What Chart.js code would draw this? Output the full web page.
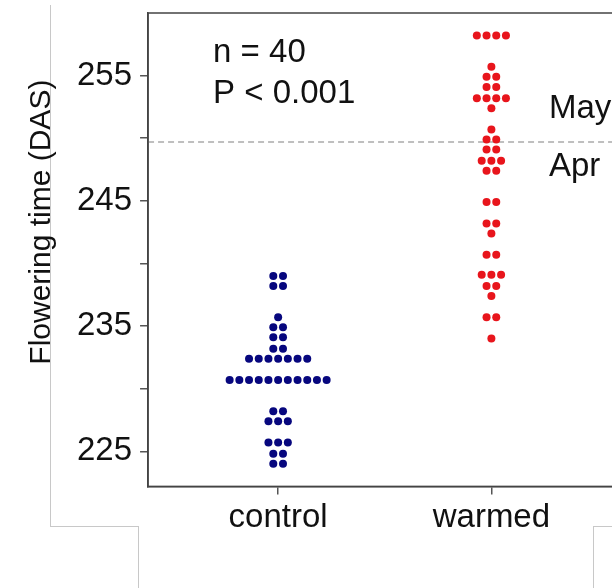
<!DOCTYPE html>
<html>
<head>
<meta charset="utf-8">
<script src="https://cdn.jsdelivr.net/npm/chart.js@4"></script>
<style>
  html, body { margin: 0; padding: 0; background: #fff; overflow: hidden; }
  #wrap { position: relative; width: 612px; height: 588px; overflow: hidden; }
  canvas { position: absolute; left: 0; top: 0; }
  .frame { position: absolute; background: #c8c8c8; }
</style>
</head>
<body>
<div id="wrap">
  <!-- faint frame left over from the source figure -->
  <div class="frame" style="left:50px;top:5px;width:1px;height:522px"></div>
  <div class="frame" style="left:50px;top:526px;width:88px;height:1px"></div>
  <div class="frame" style="left:138px;top:526px;width:1px;height:62px"></div>
  <div class="frame" style="left:593px;top:526px;width:1px;height:62px"></div>
  <div class="frame" style="left:593px;top:526px;width:19px;height:1px"></div>
  <canvas id="chart" width="640" height="588"></canvas>
</div>
<script>
// groups on the x axis
const groups = ['control', 'warmed'];
const groupPos = [1, 2];

// dot plot rows: bin value (DAS) and how many dots sit in that row
const controlBins = [239.0, 238.2, 235.7, 234.9, 234.1, 233.2, 232.4, 230.7, 228.2, 227.4, 225.7, 224.8, 224.0];
const controlCounts = [2, 2, 1, 2, 2, 2, 7, 11, 2, 3, 3, 2, 2];

const warmedBins = [258.2, 255.7, 254.9, 254.1, 253.2, 252.4, 250.7, 249.9, 249.1, 248.2, 247.4,
                    244.9, 243.2, 242.4, 240.7, 239.1, 238.2, 237.4, 235.7, 234.0];
const warmedCounts = [4, 1, 2, 2, 4, 1, 1, 2, 2, 3, 2, 2, 2, 1, 2, 3, 2, 1, 2, 1];

// y ticks (only every other one gets a label)
const yTicks = [225, 230, 235, 240, 245, 250, 255];
const yLabelled = [225, 235, 245, 255];
const yTitle = 'Flowering time (DAS)';

// April / May boundary
const monthSplit = 249.7;
const notes = ['n = 40', 'P < 0.001'];
const months = ['May', 'Apr'];

const DOT_STEP = 0.0455; // horizontal gap between stacked dots, in x units

function dotPoints(center, bins, counts) {
  const pts = [];
  bins.forEach((b, r) => {
    const k = counts[r];
    for (let i = 0; i < k; i++) {
      pts.push({ x: center + (i - (k - 1) / 2) * DOT_STEP, y: b });
    }
  });
  return pts;
}

const FONT = 'Arial, "Liberation Sans", sans-serif';

// box, dashed month line and text notes
const extras = {
  id: 'extras',
  beforeDatasetsDraw(chart) {
    const { ctx, chartArea: a, scales } = chart;
    ctx.save();
    ctx.strokeStyle = '#aaaaaa';
    ctx.lineWidth = 1.5;
    ctx.setLineDash([6, 4]);
    const y = scales.y.getPixelForValue(monthSplit);
    ctx.beginPath();
    ctx.moveTo(a.left, y);
    ctx.lineTo(chart.width, y);
    ctx.stroke();
    ctx.setLineDash([]);
    ctx.strokeStyle = '#444';
    ctx.lineWidth = 1.5;
    ctx.strokeRect(a.left, a.top, a.right - a.left, a.bottom - a.top);
    ctx.restore();
  },
  afterDraw(chart) {
    const { ctx, chartArea: a, scales } = chart;
    const xs = scales.x, ys = scales.y;
    ctx.save();
    ctx.fillStyle = '#111';
    ctx.font = '33px ' + FONT;
    ctx.textAlign = 'left';
    ctx.textBaseline = 'alphabetic';
    ctx.fillText(notes[0], xs.getPixelForValue(0.695), ys.getPixelForValue(256.1));
    ctx.fillText(notes[1], xs.getPixelForValue(0.695), ys.getPixelForValue(252.85));
    ctx.fillText(months[0], xs.getPixelForValue(2.27), ys.getPixelForValue(251.6));
    ctx.fillText(months[1], xs.getPixelForValue(2.27), ys.getPixelForValue(246.95));

    // y axis title, sits a bit above the middle of the axis
    ctx.translate(a.left - 106, ys.getPixelForValue(243.3));
    ctx.rotate(-Math.PI / 2);
    ctx.font = '30px ' + FONT;
    ctx.textAlign = 'center';
    ctx.textBaseline = 'middle';
    ctx.fillText(yTitle, 0, 0);
    ctx.restore();
  }
};

new Chart(document.getElementById('chart'), {
  type: 'scatter',
  data: {
    datasets: [
      {
        label: groups[0],
        data: dotPoints(groupPos[0], controlBins, controlCounts),
        pointRadius: 4,
        pointBackgroundColor: '#07077e',
        pointBorderWidth: 0
      },
      {
        label: groups[1],
        data: dotPoints(groupPos[1], warmedBins, warmedCounts),
        pointRadius: 4,
        pointBackgroundColor: '#e8151c',
        pointBorderWidth: 0
      }
    ]
  },
  options: {
    responsive: false,
    animation: false,
    layout: { padding: { left: 69, top: 13, right: 10, bottom: 46 } },
    plugins: { legend: { display: false }, tooltip: { enabled: false } },
    scales: {
      x: {
        type: 'linear',
        min: 0.39,
        max: 2.65,
        afterBuildTicks: s => { s.ticks = groupPos.map(v => ({ value: v })); },
        afterFit: s => { s.paddingLeft = 0; s.paddingRight = 0; },
        ticks: {
          callback: v => groups[groupPos.indexOf(v)],
          font: { size: 33, family: FONT },
          color: '#111',
          padding: 4,
          maxRotation: 0,
          autoSkip: false
        },
        grid: { drawOnChartArea: false, drawTicks: true, tickLength: 8, color: '#555', lineWidth: 1.5 },
        border: { display: true, color: '#444', width: 1.5 }
      },
      y: {
        type: 'linear',
        min: 222.2,
        max: 260,
        afterBuildTicks: s => { s.ticks = yTicks.map(v => ({ value: v })); },
        afterFit: s => { s.paddingTop = 0; s.paddingBottom = 0; },
        ticks: {
          callback: v => (yLabelled.includes(v) ? String(v) : ''),
          font: { size: 33, family: FONT },
          color: '#111',
          padding: 8
        },
        grid: { drawOnChartArea: false, drawTicks: true, tickLength: 8, color: '#555', lineWidth: 1.5 },
        border: { display: true, color: '#444', width: 1.5 }
      }
    }
  },
  plugins: [extras]
});
</script>
</body>
</html>
